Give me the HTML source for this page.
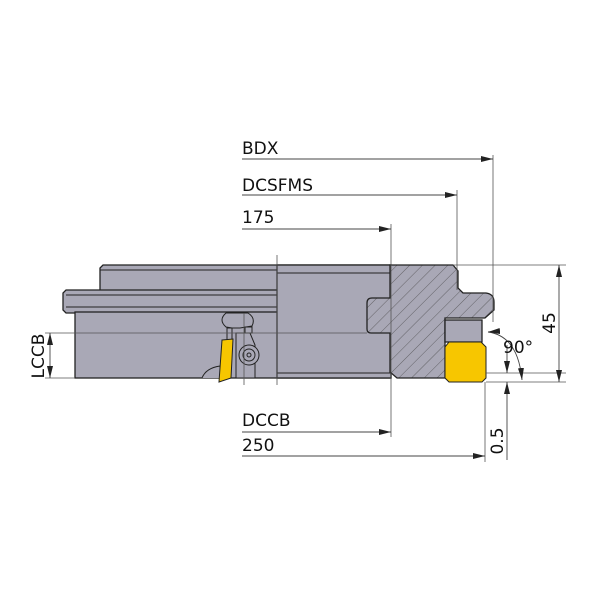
<!DOCTYPE html>
<html><head><meta charset="utf-8"><style>
html,body{margin:0;padding:0;background:#fff;}
svg{display:block;font-family:"DejaVu Sans","Liberation Sans",sans-serif;}
</style></head><body>
<svg width="600" height="600" viewBox="0 0 600 600" xmlns="http://www.w3.org/2000/svg">
<defs>
<pattern id="h" patternUnits="userSpaceOnUse" width="9" height="9" patternTransform="rotate(45)">
<rect width="9" height="9" fill="#a9a8b6"/>
<line x1="0" y1="0" x2="0" y2="9" stroke="#444" stroke-width="0.7"/>
</pattern>
<marker id="a" markerWidth="12" markerHeight="6" refX="12" refY="3" orient="auto" markerUnits="userSpaceOnUse">
<path d="M0,0 L12,3 L0,6 Z" fill="#222"/></marker>
</defs>
<g stroke="#222" stroke-width="1.3" fill="#a9a8b6">
<path d="M103,265 L391,265 L391,292 L100,292 L100,268 Z"/>
<path d="M66,290 L280,290 L280,313 L66,313 L63,310 L63,293 Z"/>
<rect x="75" y="312" width="316" height="66"/>
<rect x="277" y="265" width="114" height="113"/>
</g>
<g stroke="#222" stroke-width="1" fill="none">
<line x1="100" y1="270" x2="277" y2="270"/>
<line x1="66" y1="295" x2="277" y2="295"/>
<line x1="66" y1="307" x2="277" y2="307"/>
<line x1="277" y1="273" x2="391" y2="273"/>
<line x1="277" y1="373" x2="391" y2="373"/>
</g>
<path d="M390,265 L453,265 L458,271 L458,288 L463,293 L486,293 Q494,294 494,302 L494,310 L485,318 L482,318 L445,318 L445,378 L397,378 L390,372 L390,333 L371,333 Q367,333 367,329 L367,303 Q367,298 372,298 L390,298 Z" fill="url(#h)" stroke="#222" stroke-width="1.3"/>
<rect x="445" y="320" width="37" height="22" fill="#a9a8b6" stroke="#222" stroke-width="1.3"/>
<path d="M449,342 L481,342 L486,347 L486,378 L482,382 L449,382 L445,378 L445,347 Z" fill="#f7c600" stroke="#222" stroke-width="1"/>
<g stroke="#222" stroke-width="1" fill="#a9a8b6">
<path d="M202,378 Q206,368 220,366 L220,378"/>
<path d="M226,313 L248,313 Q256,318 252,326 L240,328 L232,328 L226,327 Q218,320 226,313 Z"/>
<rect x="227" y="328" width="5" height="12"/>
<rect x="245" y="327" width="7" height="6"/>
<path d="M236,333 L250,333 L255,345 L255,378 L236,378 Z"/>
<circle cx="249" cy="355" r="10"/>
<circle cx="249" cy="355" r="6"/>
<circle cx="249" cy="355" r="2"/>
</g>
<path d="M222,340 L233,339 L231,378 L219,382 Z" fill="#f7c600" stroke="#222" stroke-width="1"/>
<g stroke="#555" stroke-width="0.8" fill="none">
<line x1="45" y1="333" x2="367" y2="333"/>
<line x1="45" y1="378" x2="75" y2="378"/>
<line x1="277" y1="255" x2="277" y2="385"/>
<line x1="244" y1="313" x2="244" y2="385"/>
<line x1="493" y1="155" x2="493" y2="322"/>
<line x1="457" y1="190" x2="457" y2="290"/>
<line x1="391" y1="224" x2="391" y2="437"/>
<line x1="485" y1="382" x2="485" y2="462"/>
<line x1="453" y1="265" x2="566" y2="265"/>
<line x1="486" y1="373" x2="566" y2="373"/>
<line x1="486" y1="382" x2="566" y2="382"/>
</g>
<g stroke="#444" stroke-width="0.9" fill="none">
<line x1="242" y1="159" x2="493" y2="159" marker-end="url(#a)"/>
<line x1="242" y1="195" x2="457" y2="195" marker-end="url(#a)"/>
<line x1="242" y1="229" x2="391" y2="229" marker-end="url(#a)"/>
<line x1="242" y1="432" x2="391" y2="432" marker-end="url(#a)"/>
<line x1="242" y1="456" x2="485" y2="456" marker-end="url(#a)"/>
<line x1="50" y1="355" x2="50" y2="333" marker-end="url(#a)"/>
<line x1="50" y1="355" x2="50" y2="378" marker-end="url(#a)"/>
<line x1="559" y1="322" x2="559" y2="265" marker-end="url(#a)"/>
<line x1="559" y1="322" x2="559" y2="382" marker-end="url(#a)"/>
<line x1="507" y1="345" x2="507" y2="373" marker-end="url(#a)"/>
<line x1="507" y1="460" x2="507" y2="382" marker-end="url(#a)"/>
<path d="M488,332 Q518,336 522,380" marker-end="url(#a)"/>
<path d="M500,331 L488,332" marker-end="url(#a)"/>
</g>
<g font-size="17" fill="#111">
<text x="242" y="154">BDX</text>
<text x="242" y="191">DCSFMS</text>
<text x="242" y="223">175</text>
<text x="242" y="426">DCCB</text>
<text x="242" y="451">250</text>
<text x="503" y="353">90°</text>
<text transform="translate(44,356) rotate(-90)" text-anchor="middle">LCCB</text>
<text transform="translate(555,323) rotate(-90)" text-anchor="middle">45</text>
<text transform="translate(503,441) rotate(-90)" text-anchor="middle">0.5</text>
</g>
</svg>
</body></html>
